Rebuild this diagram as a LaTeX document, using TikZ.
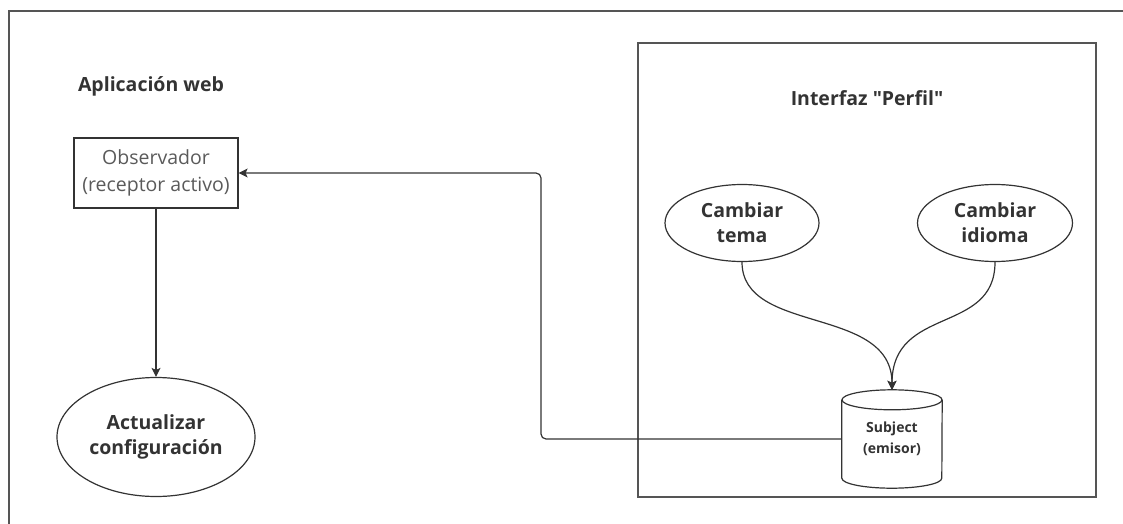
\documentclass[tikz,border=0pt]{standalone}
\usepackage{fontspec}
\setmainfont{Open Sans}[Ligatures=TeXOff]
\usetikzlibrary{arrows.meta,calc}
\definecolor{ln}{HTML}{333333}
\definecolor{frame}{HTML}{555555}
\definecolor{soft}{HTML}{5A5A5A}
\tikzset{
  lbl/.style={font=\fontsize{19.5}{25}\selectfont\bfseries, text=ln, align=center, inner sep=0pt},
  oval/.style={draw=ln, line width=1.2pt, ellipse, inner sep=0pt, align=center, font=\fontsize{19.5}{25}\selectfont\bfseries, text=ln},
  arr/.style={draw=ln, line width=1.2pt, -{Stealth[length=9pt,width=9pt,inset=2pt]}},
}
\usetikzlibrary{shapes.geometric}
\begin{document}
\begin{tikzpicture}[x=1pt,y=-1pt]
\useasboundingbox (0,0) rectangle (1123,524);
% outer frame
\draw[frame, line width=1.8pt] (9,530) -- (9,11) -- (1130,11);
% right box
\draw[frame, line width=1.6pt] (638,43) rectangle (1096,497);
% titles
\node[lbl] (tapp) at (151,86) {Aplicación web};
\node[lbl] (tint) at (867,98) {Interfaz "Perfil"};
% observer
\node[draw=ln, line width=1.2pt, minimum width=164pt, minimum height=70pt, inner sep=0pt, align=center,
      font=\fontsize{19.5}{27}\selectfont, text=soft] (obs) at (156,173) {Observador\\(receptor activo)};
% update ellipse
\node[oval, minimum width=198pt, minimum height=119pt] (upd) at (156,437) {Actualizar\\configuración};
% change ellipses
\node[oval, minimum width=154pt, minimum height=77pt] (tema) at (742,223) {Cambiar\\tema};
\node[oval, minimum width=155pt, minimum height=77pt] (idioma) at (995,223) {Cambiar\\idioma};
% subject cylinder
\node[minimum width=100pt, minimum height=98pt, inner sep=0pt] (subj) at (892,439) {};
\draw[ln, line width=1.2pt, fill=white]
  (subj.north west) ++(0,10) -- ($(subj.south west)+(0,-10)$)
  arc[start angle=180, end angle=360, x radius=50pt, y radius=10pt]
  -- ($(subj.north east)+(0,10)$);
\draw[ln, line width=1.2pt] ($(subj.north)+(0,10)$) ellipse [x radius=50pt, y radius=10pt];
\node[font=\fontsize{14}{21}\selectfont\bfseries, text=ln, align=center] (subjt) at (892,438.5) {Subject\\(emisor)};
% connectors
\draw[arr] (obs.south) -- (upd.north);
\draw[arr] (tema.south) .. controls (742,335) and (892,305) .. (subj.north);
\draw[arr] (idioma.south) .. controls (995,335) and (892,305) .. (subj.north);
\coordinate (bend) at (541,300);
\draw[arr, rounded corners=5pt] (subj.west) -| (bend |- obs.east) -- (obs.east);
\end{tikzpicture}
\end{document}
